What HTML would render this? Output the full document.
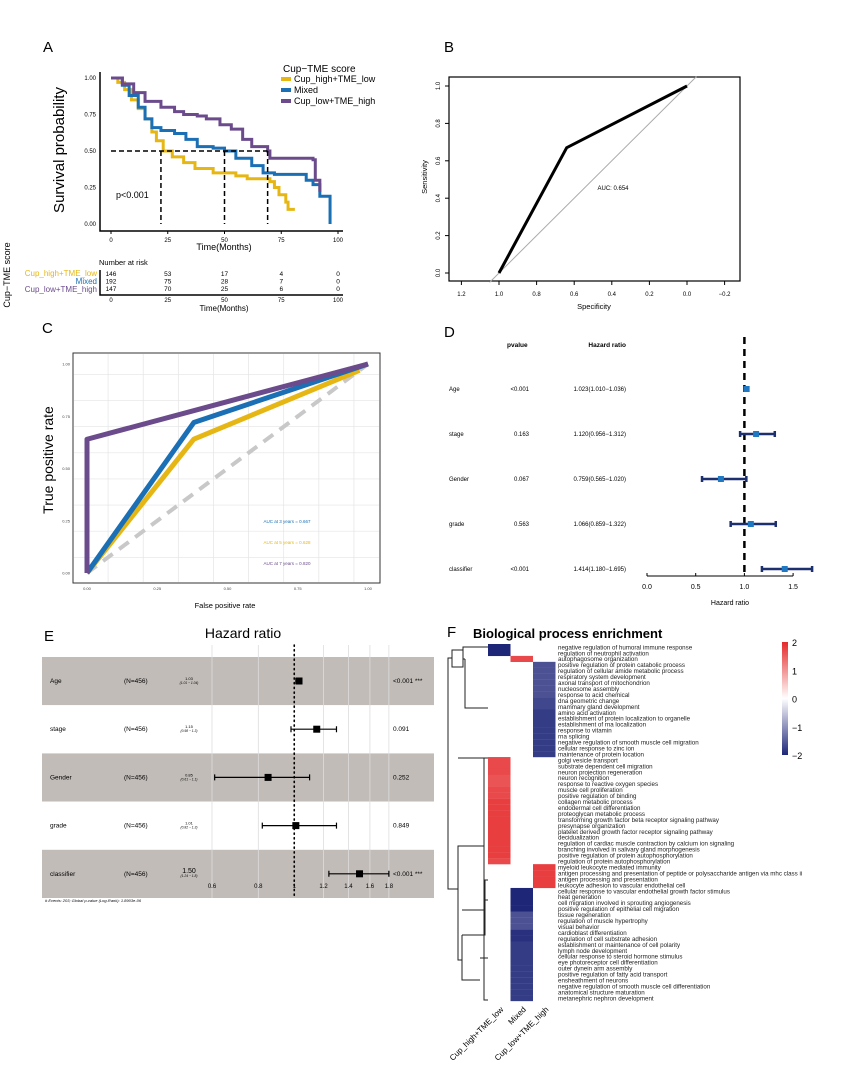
<!DOCTYPE html>
<html><head><meta charset="utf-8"><style>
html,body{margin:0;padding:0;background:#fff}
svg{display:block;font-family:"Liberation Sans",sans-serif}
</style></head><body>
<svg id="fig" width="865" height="1088" viewBox="0 0 865 1088" xmlns="http://www.w3.org/2000/svg">
<g id="pA">
<text x="43" y="52" font-size="15">A</text>
<text transform="translate(64,150) rotate(-90)" text-anchor="middle" font-size="15">Survival probability</text>
<text x="224" y="250" text-anchor="middle" font-size="9">Time(Months)</text>
<text x="283" y="72" font-size="10">Cup−TME score</text>
<rect x="281" y="77" width="10" height="4" fill="#e6b714"/>
<text x="294" y="82" font-size="9">Cup_high+TME_low</text>
<rect x="281" y="88" width="10" height="4" fill="#1a6fb5"/>
<text x="294" y="93" font-size="9">Mixed</text>
<rect x="281" y="99" width="10" height="4" fill="#6b4b8c"/>
<text x="294" y="104" font-size="9">Cup_low+TME_high</text>
<text x="116" y="198" font-size="9">p&lt;0.001</text>
<text x="99" y="265" font-size="7.5">Number at risk</text>
<text x="97" y="276" text-anchor="end" font-size="8" fill="#e6b714">Cup_high+TME_low</text>
<text x="97" y="284" text-anchor="end" font-size="8" fill="#1a6fb5">Mixed</text>
<text x="97" y="292" text-anchor="end" font-size="8" fill="#6b4b8c">Cup_low+TME_high</text>
<text transform="translate(10,275) rotate(-90)" text-anchor="middle" font-size="9">Cup−TME score</text>
<text x="224" y="311" text-anchor="middle" font-size="8">Time(Months)</text>
</g>
<g id="pB">
<text x="444" y="52" font-size="15">B</text>
<rect x="449" y="77" width="291" height="204" fill="none" stroke="#000" stroke-width="1.2"/>
<text x="594" y="309" text-anchor="middle" font-size="7.5">Specificity</text>
<text transform="translate(427,177) rotate(-90)" text-anchor="middle" font-size="7.5">Sensitivity</text>
</g>
<g id="pC">
<text x="42" y="333" font-size="15">C</text>
<text transform="translate(53,460) rotate(-90)" text-anchor="middle" font-size="14">True positive rate</text>
<text x="225" y="608" text-anchor="middle" font-size="7.5">False positive rate</text>
</g>
<g id="pD">
<text x="444" y="337" font-size="15">D</text>
<text x="507" y="347" font-size="6.5" font-weight="bold">pvalue</text>
<text x="626" y="347" text-anchor="end" font-size="6.5" font-weight="bold">Hazard ratio</text>
<text x="730" y="605" text-anchor="middle" font-size="7">Hazard ratio</text>
</g>
<g id="pE">
<text x="44" y="641" font-size="15">E</text>
<text x="243" y="638" text-anchor="middle" font-size="14">Hazard ratio</text>
<text x="45" y="902" font-size="4" font-style="italic"># Events: 203; Global p-value (Log-Rank): 1.8903e-06</text>
</g>
<g id="pF">
<text x="447" y="637" font-size="15">F</text>
<text x="473" y="638" font-size="13" font-weight="bold">Biological process enrichment</text>
</g>
</svg>
<script>
const NS="http://www.w3.org/2000/svg";
function mk(parent,tag,attrs,txt){const e=document.createElementNS(NS,tag);for(const k in attrs)e.setAttribute(k,attrs[k]);if(txt!==undefined)e.textContent=txt;document.getElementById(parent).appendChild(e);return e;}

// ---------- Panel A data ----------
const kmHighT=[0,3,6,9,12,15,18,20,23,27,32,37,45,55,60,70,72,74,77,78,81];
const kmHighS=[1,.97,.92,.85,.79,.72,.63,.57,.5,.46,.42,.38,.35,.33,.31,.29,.25,.2,.15,.1,.1];
const kmMixT=[0,5,8,12,15,18,22,28,33,38,45,50,55,62,67,72,86,89,92,96,96.5];
const kmMixS=[1,.95,.88,.8,.72,.66,.64,.62,.58,.53,.52,.5,.45,.4,.35,.34,.3,.27,.19,.19,0];
const kmLowT=[0,5,10,15,22,28,32,38,42,48,53,58,62,69,70,89,90,92];
const kmLowS=[1,.96,.9,.84,.8,.77,.75,.74,.72,.68,.65,.58,.53,.5,.45,.44,.3,.22];
const kmMedians=[22,50,69];
const kmTicks=[0,25,50,75,100];
const kmYTicks=[0,0.25,0.5,0.75,1];
const riskHigh=[146,53,17,4,0], riskMix=[192,75,28,7,0], riskLow=[147,70,25,6,0];
const ax=t=>111+t*2.27, ay=s=>224-s*146;
let e;
e=mk('pA','path',{d:`M100,72V231H343`,fill:'none',stroke:'#000','stroke-width':1.5});


kmTicks.forEach(t=>{
  e=mk('pA','text',{x:ax(t),y:242,'text-anchor':'middle','font-size':6},t);
  
  
  e=mk('pA','line',{x1:ax(t),x2:ax(t),y1:231,y2:234,stroke:'#000'});
  
  
  e=mk('pA','text',{x:ax(t),y:302,'text-anchor':'middle','font-size':6},t);
  
  
});
kmYTicks.forEach(s=>{
  e=mk('pA','text',{x:96,y:ay(s)+2,'text-anchor':'end','font-size':6},s.toFixed(2));
  
  
});
function step(T,S){let d=`M${ax(T[0])},${ay(S[0])}`;for(let i=1;i<T.length;i++){d+=`H${ax(T[i])}V${ay(S[i])}`;}return d;}
[[kmHighT,kmHighS,'#e6b714','km-curve-high'],[kmMixT,kmMixS,'#1a6fb5','km-curve-mixed'],[kmLowT,kmLowS,'#6b4b8c','km-curve-low']].forEach(c=>{
  e=mk('pA','path',{d:step(c[0],c[1]),fill:'none',stroke:c[2],'stroke-width':3});
  
  
});
e=mk('pA','line',{x1:ax(0),x2:ax(Math.max(...kmMedians)),y1:ay(.5),y2:ay(.5),stroke:'#000','stroke-width':1.5,'stroke-dasharray':'5,3'});


kmMedians.forEach(m=>{
  e=mk('pA','line',{x1:ax(m),x2:ax(m),y1:ay(.5),y2:ay(0),stroke:'#000','stroke-width':1.5,'stroke-dasharray':'5,3'});
  
  
});
e=mk('pA','path',{d:`M100,270V295H343`,fill:'none',stroke:'#000','stroke-width':1.5});


[riskHigh,riskMix,riskLow].forEach((r,i)=>r.forEach((v,j)=>{
  e=mk('pA','text',{x:ax(kmTicks[j]),y:276+i*7.5,'text-anchor':'middle','font-size':6.5},v);
  
  
}));

// ---------- Panel B ----------
const rocSpec=[1,0.64,0];
const rocSens=[0,0.67,1];
const bTicksX=[1.2,1.0,0.8,0.6,0.4,0.2,0.0,-0.2];
const bTicksY=[0,0.2,0.4,0.6,0.8,1.0];
const bx=s=>687-s*188, by=s=>273-s*187;
e=mk('pB','line',{x1:bx(1.05),y1:by(-0.05),x2:bx(-0.05),y2:by(1.05),stroke:'#aaa','stroke-width':1});


e=mk('pB','polyline',{points:rocSpec.map((s,i)=>bx(s)+','+by(rocSens[i])).join(' '),fill:'none',stroke:'#000','stroke-width':3});


bTicksX.forEach(t=>{
  e=mk('pB','line',{x1:bx(t),x2:bx(t),y1:281,y2:285,stroke:'#000'});
  
  
  e=mk('pB','text',{x:bx(t),y:296,'text-anchor':'middle','font-size':6},t.toFixed(1).replace('-','−'));
  
  
});
bTicksY.forEach(t=>{
  e=mk('pB','line',{x1:445,x2:449,y1:by(t),y2:by(t),stroke:'#000'});
  
  
  e=mk('pB','text',{transform:`translate(440,${by(t)}) rotate(-90)`,'text-anchor':'middle','font-size':6},t.toFixed(1));
  
  
});
e=mk('pB','text',{x:613,y:190,'text-anchor':'middle','font-size':6},'AUC: 0.654');



// ---------- Panel C ----------
const cFpr3=[0,0.38,1], cTpr3=[0,0.72,1];
const cFpr5=[0,0.38,0.97], cTpr5=[0,0.64,0.97];
const cFpr7=[0,0,1], cTpr7=[0,0.64,1];
const cAucLabels=['AUC at 3 years = 0.667','AUC at 5 years = 0.628','AUC at 7 years = 0.820'];
const cTicks=[0,0.25,0.5,0.75,1];
const cx=f=>87+f*281, cy=t=>573-t*209;
e=mk('pC','rect',{x:73,y:353,width:307,height:230,fill:'#fff',stroke:'#333','stroke-width':1});


for(let g=-0.05;g<=1.05;g+=0.125){
  const v=Math.round(g*1000)/1000; if(v<-0.04) continue;
  const major=Math.abs(v*4-Math.round(v*4))<1e-6;
  e=mk('pC','line',{x1:cx(v),x2:cx(v),y1:354,y2:582,stroke:'#e4e4e4','stroke-width':major?1.4:0.7});
  
  
  e=mk('pC','line',{x1:74,x2:379,y1:cy(v),y2:cy(v),stroke:'#e4e4e4','stroke-width':major?1.4:0.7});
  
  
}
cTicks.forEach(t=>{
  e=mk('pC','text',{x:cx(t),y:590,'text-anchor':'middle','font-size':4,fill:'#444'},t.toFixed(2));
  
  
  e=mk('pC','text',{x:70,y:cy(t)+1.5,'text-anchor':'end','font-size':4,fill:'#444'},t.toFixed(2));
  
  
});
e=mk('pC','line',{x1:cx(0),y1:cy(0),x2:cx(1),y2:cy(1),stroke:'#c8c8c8','stroke-width':4,'stroke-dasharray':'12,8'});


[[cFpr5,cTpr5,'#e6b714','roc-5-years'],[cFpr3,cTpr3,'#1a6fb5','roc-3-years'],[cFpr7,cTpr7,'#6b4b8c','roc-7-years']].forEach(c=>{
  e=mk('pC','polyline',{points:c[0].map((f,i)=>cx(f)+','+cy(c[1][i])).join(' '),fill:'none',stroke:c[2],'stroke-width':5,'stroke-linejoin':'round'});
  
  
});
['#1a6fb5','#e6b714','#6b4b8c'].forEach((col,i)=>{
  e=mk('pC','text',{x:287,y:523+i*21,'text-anchor':'middle','font-size':4.5,fill:col},cAucLabels[i]);
  
  
});

// ---------- Panel D ----------
const dVars=['Age','stage','Gender','grade','classifier'];
const dP=['<0.001','0.163','0.067','0.563','<0.001'];
const dHR=[1.023,1.120,0.759,1.066,1.414];
const dLo=[1.010,0.956,0.565,0.859,1.180];
const dHi=[1.036,1.312,1.020,1.322,1.695];
const dTicks=[0,0.5,1,1.5];
const dx=h=>647+h*97.4;
const dRowY=i=>389+i*45;
e=mk('pD','line',{x1:dx(1),x2:dx(1),y1:337,y2:575,stroke:'#000','stroke-width':2.5,'stroke-dasharray':'7,5'});


e=mk('pD','line',{x1:dx(0),x2:dx(1.5),y1:576,y2:576,stroke:'#000','stroke-width':1});


dTicks.forEach(t=>{
  e=mk('pD','line',{x1:dx(t),x2:dx(t),y1:573,y2:576,stroke:'#000'});
  
  
  e=mk('pD','text',{x:dx(t),y:589,'text-anchor':'middle','font-size':7},t.toFixed(1));
  
  
});
dVars.forEach((v,i)=>{
  const y=dRowY(i);
  e=mk('pD','text',{x:449,y:y+2,'font-size':6},v);
  
  
  e=mk('pD','text',{x:529,y:y+2,'text-anchor':'end','font-size':6},dP[i]);
  
  
  e=mk('pD','text',{x:626,y:y+2,'text-anchor':'end','font-size':6},dHR[i].toFixed(3)+'('+dLo[i].toFixed(3)+'−'+dHi[i].toFixed(3)+')');
  
  
  e=mk('pD','path',{d:`M${dx(dLo[i])},${y-3}V${y+3}M${dx(dLo[i])},${y}H${dx(dHi[i])}M${dx(dHi[i])},${y-3}V${y+3}`,fill:'none',stroke:'#1c2f6e','stroke-width':2.5});
  
  
  e=mk('pD','rect',{x:dx(dHR[i])-3,y:y-3,width:6,height:6,fill:'#1f78c1'});
  
  
});

// ---------- Panel E ----------
const eVars=['Age','stage','Gender','grade','classifier'];
const eHR=[1.03,1.15,0.85,1.01,1.50];
const eLo=[1.01,0.98,0.61,0.82,1.24];
const eHi=[1.04,1.30,1.10,1.30,1.80];
const eP=['<0.001 ***','0.091','0.252','0.849','<0.001 ***'];
const eTicks=[0.6,0.8,1,1.2,1.4,1.6,1.8];
const ex=h=>212+(Math.log(h)-Math.log(0.6))*161;
eVars.forEach((v,i)=>{
  e=mk('pE','rect',{x:42,y:657+i*48.2,width:392,height:48.2,fill:i%2===0?'#c1bcb8':'#fff'});
  
  
});
eTicks.forEach(t=>{
  if(t!==1){e=mk('pE','line',{x1:ex(t),x2:ex(t),y1:645,y2:898,stroke:'#ddd','stroke-width':0.8});
  
  }
  e=mk('pE','text',{x:ex(t),y:888,'text-anchor':'middle','font-size':6},t);
  
  
});
e=mk('pE','line',{x1:ex(1),x2:ex(1),y1:645,y2:898,stroke:'#000','stroke-width':1.6,'stroke-dasharray':'1.2,3.5','stroke-linecap':'round'});


eVars.forEach((v,i)=>{
  const y=681+i*48.2;
  e=mk('pE','text',{x:50,y:y+2,'font-size':6.5},v);
  
  
  e=mk('pE','text',{x:124,y:y+2,'font-size':6.5},'(N=456)');
  
  
  e=mk('pE','text',{x:189,y:y-1,'text-anchor':'middle','font-size':i===4?7:4},eHR[i].toFixed(2));
  
  
  e=mk('pE','text',{x:189,y:y+3,'text-anchor':'middle','font-size':3.3,'font-style':'italic'},'('+eLo[i]+' − '+eHi[i]+')');
  
  
  e=mk('pE','text',{x:393,y:y+2,'font-size':6.5},eP[i]);
  
  
  e=mk('pE','path',{d:`M${ex(eLo[i])},${y-3}V${y+3}M${ex(eLo[i])},${y}H${ex(eHi[i])}M${ex(eHi[i])},${y-3}V${y+3}`,fill:'none',stroke:'#000','stroke-width':1.2});
  
  
  e=mk('pE','rect',{x:ex(eHR[i])-3.5,y:y-3.5,width:7,height:7,fill:'#000'});
  
  
});

// ---------- Panel F ----------
const fTerms=['negative regulation of humoral immune response','regulation of neutrophil activation','autophagosome organization','positive regulation of protein catabolic process','regulation of cellular amide metabolic process','respiratory system development','axonal transport of mitochondrion','nucleosome assembly','response to acid chemical','dna geometric change','mammary gland development','amino acid activation','establishment of protein localization to organelle','establishment of rna localization','response to vitamin','rna splicing','negative regulation of smooth muscle cell migration','cellular response to zinc ion','maintenance of protein location','golgi vesicle transport','substrate dependent cell migration','neuron projection regeneration','neuron recognition','response to reactive oxygen species','muscle cell proliferation','positive regulation of binding','collagen metabolic process','endodermal cell differentiation','proteoglycan metabolic process','transforming growth factor beta receptor signaling pathway','presynapse organization','platelet derived growth factor receptor signaling pathway','decidualization','regulation of cardiac muscle contraction by calcium ion signaling','branching involved in salivary gland morphogenesis','positive regulation of protein autophosphorylation','regulation of protein autophosphorylation','myeloid leukocyte mediated immunity','antigen processing and presentation of peptide or polysaccharide antigen via mhc class ii','antigen processing and presentation','leukocyte adhesion to vascular endothelial cell','cellular response to vascular endothelial growth factor stimulus','heat generation','cell migration involved in sprouting angiogenesis','positive regulation of epithelial cell migration','tissue regeneration','regulation of muscle hypertrophy','visual behavior','cardioblast differentiation','regulation of cell substrate adhesion','establishment or maintenance of cell polarity','lymph node development','cellular response to steroid hormone stimulus','eye photoreceptor cell differentiation','outer dynein arm assembly','positive regulation of fatty acid transport','ensheathment of neurons','negative regulation of smooth muscle cell differentiation','anatomical structure maturation','metanephric nephron development'];
const fGroups=['Cup_high+TME_low','Mixed','Cup_low+TME_high'];
const fCol=[0,0,1,2,2,2,2,2,2,2,2,2,2,2,2,2,2,2,2,0,0,0,0,0,0,0,0,0,0,0,0,0,0,0,0,0,0,2,2,2,2,1,1,1,1,1,1,1,1,1,1,1,1,1,1,1,1,1,1,1];
const fVal=[-2,-2,1.7,-1.6,-1.6,-1.6,-1.6,-1.6,-1.6,-1.7,-1.7,-1.8,-1.8,-1.8,-1.8,-1.8,-1.8,-1.8,-1.8,1.7,1.7,1.7,1.6,1.6,1.7,1.7,1.8,1.8,1.8,1.8,1.8,1.8,1.8,1.8,1.8,1.8,1.7,1.8,1.8,1.8,1.8,-2,-2,-2,-2,-1.6,-1.6,-1.6,-1.9,-1.9,-1.8,-1.8,-1.8,-1.8,-1.8,-1.8,-1.8,-1.8,-1.8,-1.8];
const fLegend=[2,1,0,-1,-2];
const hx=c=>488+c*22.5, hy=r=>644+r*5.95;
function colr(v){const t=Math.min(1,Math.abs(v)/2);const mix=(a)=>Math.round(255+(a-255)*t);
  return v>=0?`rgb(${mix(229)},${mix(41)},${mix(42)})`:`rgb(${mix(30)},${mix(38)},${mix(120)})`;}
fTerms.forEach((t,i)=>{
  e=mk('pF','rect',{x:hx(fCol[i]),y:hy(i),width:22.5,height:6.1,fill:colr(fVal[i])});
  
  
  e=mk('pF','text',{x:558,y:hy(i)+5.3,'font-size':6.2,fill:'#222'},t);
  
  
});
fGroups.forEach((g,c)=>{
  e=mk('pF','text',{transform:`translate(${hx(c)+16},${1010}) rotate(-45)`,'text-anchor':'end','font-size':8},g);
  
  
});
const grad=mk('pF','linearGradient',{id:'cb',x1:0,y1:0,x2:0,y2:1});
[['0%','#e5292a'],['50%','#ffffff'],['100%','#1e2678']].forEach(s=>{const st=document.createElementNS(NS,'stop');st.setAttribute('offset',s[0]);st.setAttribute('stop-color',s[1]);grad.appendChild(st);});
e=mk('pF','rect',{x:782,y:642,width:6,height:113,fill:'url(#cb)'});


fLegend.forEach(v=>{
  e=mk('pF','text',{x:792,y:642+(2-v)/4*113+4,'font-size':9},v<0?'−'+(-v):v);
  
  
});
e=mk('pF','path',{d:`M488,647H463V667H452V650H463 M463,659H465 M465,659V708H488 M452,658H448V889H458 M458,758H488 M458,889V846H484 M484,846V758 M484,846V1000H488 M458,889V960H462 M462,935V980H480 M462,935H485V880H488 M480,958H488 M462,910H485 M485,900H488`,fill:'none',stroke:'#222','stroke-width':1});


</script>
</body></html>
